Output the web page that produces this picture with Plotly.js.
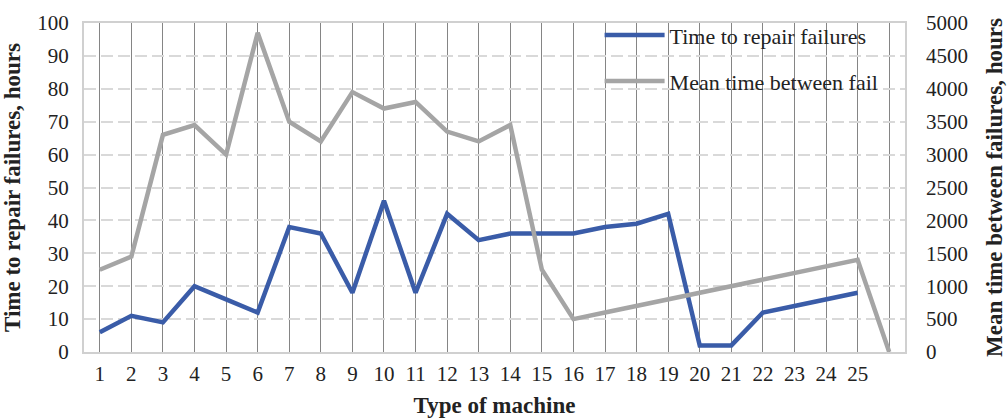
<!DOCTYPE html>
<html>
<head>
<meta charset="utf-8">
<script src="https://cdn.plot.ly/plotly-3.0.1.min.js"></script>
<style>html,body{margin:0;padding:0;background:#fff;}#chart{width:1007px;height:418px;}</style>
</head>
<body>
<div id="chart"></div>
<script>
// Machine types (26th point has no tick label)
const machines = [1,2,3,4,5,6,7,8,9,10,11,12,13,14,15,16,17,18,19,20,21,22,23,24,25,26];
const tickLabels = ["1","2","3","4","5","6","7","8","9","10","11","12","13","14","15","16","17","18","19","20","21","22","23","24","25",""];
// Time to repair failures, hours (left axis)
const repairTime = [6,11,9,20,16,12,38,36,18,46,18,42,34,36,36,36,38,39,42,2,2,12,14,16,18,null];
// Mean time between failures, hours (right axis)
const mtbf = [1250,1450,3300,3450,3000,4850,3500,3200,3950,3700,3800,3350,3200,3450,1250,500,600,700,800,900,1000,1100,1200,1300,1400,0];

const FONT = "Liberation Serif, DejaVu Serif, serif";
const TXT = '#222';

const traces = [
  {x: machines, y: repairTime, type: 'scatter', mode: 'lines', name: 'Time to repair failures',
   line: {color: '#3a5ca8', width: 4.5}, yaxis: 'y', legend: 'legend'},
  {x: machines, y: mtbf, type: 'scatter', mode: 'lines', name: 'Mean time between fail',
   line: {color: '#a5a5a5', width: 4.5}, yaxis: 'y2', legend: 'legend2'}
];

const layout = {
  width: 1007, height: 418,
  margin: {l: 84, r: 102, t: 23, b: 66},
  paper_bgcolor: '#fff', plot_bgcolor: '#fff',
  font: {family: FONT, size: 21, color: TXT},
  xaxis: {
    range: [0.5, 26.5], tickmode: 'array', tickvals: machines, ticktext: tickLabels,
    showgrid: true, gridcolor: '#858585', gridwidth: 1,
    zeroline: false, showline: true, linecolor: '#d0d0d0', linewidth: 2, mirror: true,
    ticks: '', ticklabelstandoff: 2,
    tickfont: {family: FONT, size: 21, color: TXT},
    title: {text: '<b>Type of machine</b>', font: {family: FONT, size: 23, color: TXT}, standoff: 12}
  },
  yaxis: {
    range: [0, 100], dtick: 10, tick0: 0,
    showgrid: true, gridcolor: '#d9d9d9', gridwidth: 2, griddash: '12px,5px',
    zeroline: false, showline: true, linecolor: '#d0d0d0', linewidth: 2, mirror: true,
    ticks: '', ticklabelstandoff: 9,
    tickfont: {family: FONT, size: 21, color: TXT},
    title: {text: '<b>Time to repair failures, hours</b>', font: {family: FONT, size: 23, color: TXT}, standoff: 10}
  },
  yaxis2: {
    overlaying: 'y', side: 'right', range: [0, 5000], dtick: 500, tick0: 0,
    showgrid: false, zeroline: false, showline: false,
    ticks: '', ticklabelstandoff: 20,
    tickfont: {family: FONT, size: 21, color: TXT},
    title: {text: '<b>Mean time between failures, hours</b>', font: {family: FONT, size: 23, color: TXT}, standoff: 19}
  },
  legend: {x: 0.628, y: 1.027, xanchor: 'left', yanchor: 'top', bgcolor: 'rgba(0,0,0,0)',
           font: {family: FONT, size: 22, color: TXT}, itemwidth: 60},
  legend2: {x: 0.628, y: 0.887, xanchor: 'left', yanchor: 'top', bgcolor: 'rgba(0,0,0,0)',
           font: {family: FONT, size: 22, color: TXT}, itemwidth: 60},
  showlegend: true
};

Plotly.newPlot('chart', traces, layout, {displayModeBar: false, staticPlot: true});
</script>
</body>
</html>
